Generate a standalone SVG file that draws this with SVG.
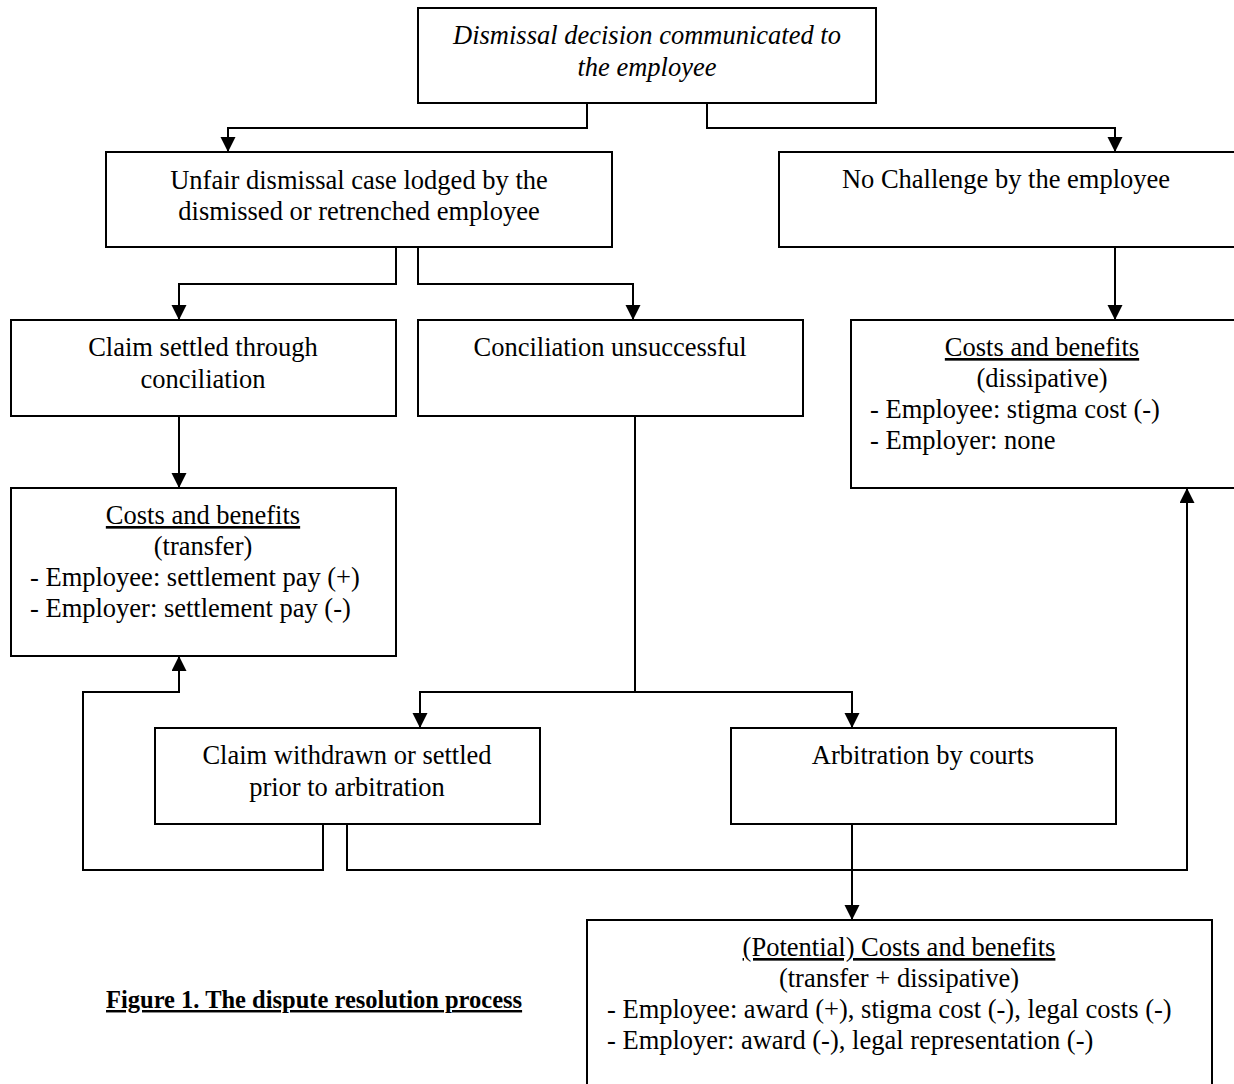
<svg xmlns="http://www.w3.org/2000/svg" width="1234" height="1084" viewBox="0 0 1234 1084">
<style>
.box{fill:#fff;stroke:#000;stroke-width:2}
.t{font-family:"Liberation Serif","Times New Roman",serif;font-size:26.5px;fill:#000}
.c{text-anchor:middle}
.i{font-style:italic}
.u{text-decoration:underline}
.ln{fill:none;stroke:#000;stroke-width:2}
.cap{font-family:"Liberation Serif","Times New Roman",serif;font-size:24.5px;font-weight:bold;text-decoration:underline;fill:#000}
</style>
<defs>
<marker id="ah" markerUnits="userSpaceOnUse" markerWidth="16" markerHeight="16" refX="15" refY="7.5" orient="auto">
<path d="M0,0 L15,7.5 L0,15 z" fill="#000"/>
</marker>
</defs>
<rect width="1234" height="1084" fill="#fff"/>
<g id="connectors">
<path class="ln" d="M587,103 V128 H228 V152" marker-end="url(#ah)"/>
<path class="ln" d="M707,103 V128 H1115 V152" marker-end="url(#ah)"/>
<path class="ln" d="M396,247 V284 H179 V320" marker-end="url(#ah)"/>
<path class="ln" d="M418,247 V284 H633 V320" marker-end="url(#ah)"/>
<path class="ln" d="M1115,247 V320" marker-end="url(#ah)"/>
<path class="ln" d="M179,416 V488" marker-end="url(#ah)"/>
<path class="ln" d="M635,416 V692"/>
<path class="ln" d="M635,692 H420 V728" marker-end="url(#ah)"/>
<path class="ln" d="M635,692 H852 V728" marker-end="url(#ah)"/>
<path class="ln" d="M323,824 V870 H83 V692 H179 V656" marker-end="url(#ah)"/>
<path class="ln" d="M347,824 V870 H1187 V488" marker-end="url(#ah)"/>
<path class="ln" d="M852,824 V920" marker-end="url(#ah)"/>
</g>
<g id="n-dismissal">
<rect class="box" x="418" y="8" width="458" height="95"/>
<text class="t c i" x="647" y="44">Dismissal decision communicated to</text>
<text class="t c i" x="647" y="76">the employee</text>
</g>
<g id="n-unfair">
<rect class="box" x="106" y="152" width="506" height="95"/>
<text class="t c" x="359" y="189">Unfair dismissal case lodged by the</text>
<text class="t c" x="359" y="220">dismissed or retrenched employee</text>
</g>
<g id="n-nochallenge">
<rect class="box" x="779" y="152" width="470" height="95"/>
<text class="t c" x="1006" y="188">No Challenge by the employee</text>
</g>
<g id="n-settled">
<rect class="box" x="11" y="320" width="385" height="96"/>
<text class="t c" x="203" y="356">Claim settled through</text>
<text class="t c" x="203" y="388">conciliation</text>
</g>
<g id="n-unsuccessful">
<rect class="box" x="418" y="320" width="385" height="96"/>
<text class="t c" x="610" y="356">Conciliation unsuccessful</text>
</g>
<g id="n-dissipative">
<rect class="box" x="851" y="320" width="400" height="168"/>
<text class="t c u" x="1042" y="356">Costs and benefits</text>
<text class="t c" x="1042" y="387">(dissipative)</text>
<text class="t" x="870" y="418">- Employee: stigma cost (-)</text>
<text class="t" x="870" y="449">- Employer: none</text>
</g>
<g id="n-transfer">
<rect class="box" x="11" y="488" width="385" height="168"/>
<text class="t c u" x="203" y="524">Costs and benefits</text>
<text class="t c" x="203" y="555">(transfer)</text>
<text class="t" x="30" y="586">- Employee: settlement pay (+)</text>
<text class="t" x="30" y="617">- Employer: settlement pay (-)</text>
</g>
<g id="n-withdrawn">
<rect class="box" x="155" y="728" width="385" height="96"/>
<text class="t c" x="347" y="764">Claim withdrawn or settled</text>
<text class="t c" x="347" y="796">prior to arbitration</text>
</g>
<g id="n-arbitration">
<rect class="box" x="731" y="728" width="385" height="96"/>
<text class="t c" x="923" y="764">Arbitration by courts</text>
</g>
<g id="n-potential">
<rect class="box" x="587" y="920" width="625" height="180"/>
<text class="t c u" x="899" y="956">(Potential) Costs and benefits</text>
<text class="t c" x="899" y="987">(transfer + dissipative)</text>
<text class="t" x="607" y="1018">- Employee: award (+), stigma cost (-), legal costs (-)</text>
<text class="t" x="607" y="1049">- Employer: award (-), legal representation (-)</text>
</g>
<g id="caption">
<text class="cap" x="106" y="1008">Figure 1. The dispute resolution process</text>
</g>
</svg>
